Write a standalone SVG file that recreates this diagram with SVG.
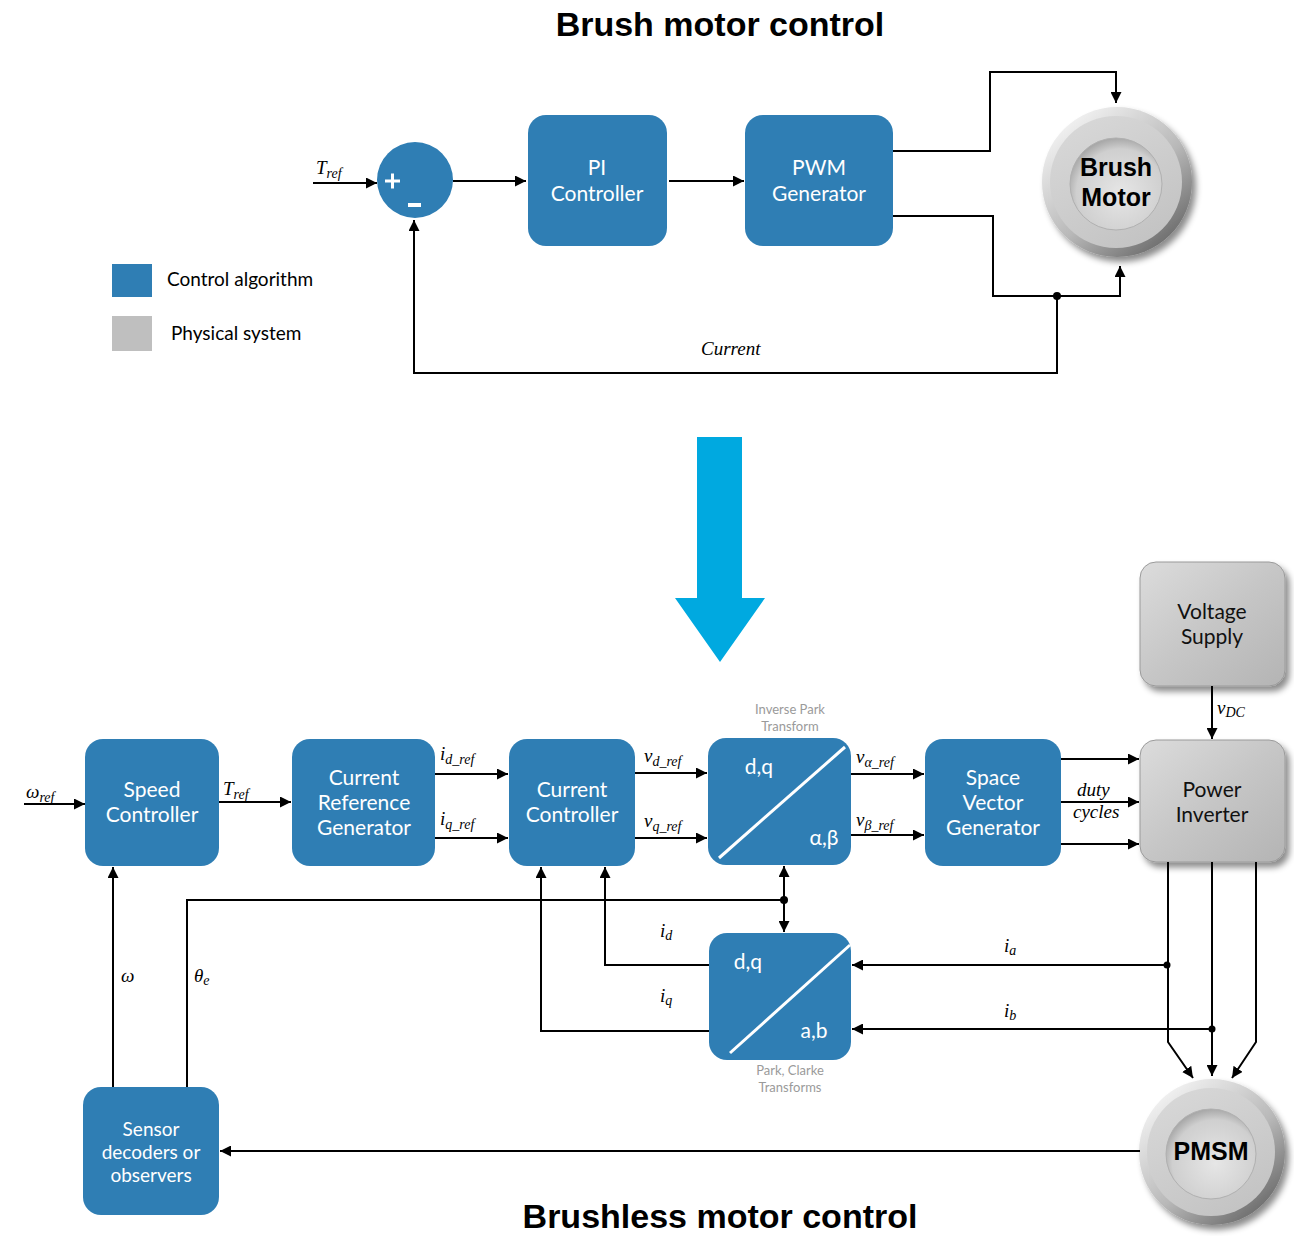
<svg xmlns="http://www.w3.org/2000/svg" width="1294" height="1236" viewBox="0 0 1294 1236">
  <defs>
    <style>
      .ctl { fill: #2f7eb4; }
      .phys { fill: url(#physGrad); stroke: #9a9a9a; stroke-width: 1; }
      .wire { fill: none; stroke: #000; stroke-width: 2; }
      .arr { fill: none; stroke: #000; stroke-width: 2; marker-end: url(#ah); }
      .lbl { font-family: Lato, "Liberation Sans", sans-serif; font-size: 21px; fill: #fff; text-anchor: middle; }
      .plbl { font-family: Lato, "Liberation Sans", sans-serif; font-size: 21px; fill: #111; text-anchor: middle; }
      .math { font-family: "Liberation Serif", serif; font-style: italic; font-size: 19px; fill: #000; }
      .sub { font-size: 14px; }
      .note { font-family: Lato, "Liberation Sans", sans-serif; font-size: 13px; fill: #9a9a9a; text-anchor: middle; }
      .title { font-family: "Liberation Sans", sans-serif; font-weight: bold; font-size: 34px; fill: #000; text-anchor: middle; }
      .legend { font-family: Lato, "Liberation Sans", sans-serif; font-size: 19px; fill: #000; }
      .diag { stroke: #fff; stroke-width: 3; }
      .motorTxt { font-family: "Liberation Sans", sans-serif; font-weight: bold; font-size: 25px; fill: #000; text-anchor: middle; }
    </style>
    <marker id="ah" viewBox="0 0 10 10" refX="10" refY="5" markerWidth="11" markerHeight="11" markerUnits="userSpaceOnUse" orient="auto">
      <path d="M0,0 L10,5 L0,10 z" fill="#000"/>
    </marker>
    <linearGradient id="physGrad" x1="0" y1="0" x2="1" y2="1">
      <stop offset="0" stop-color="#dcdcdc"/>
      <stop offset="0.5" stop-color="#c6c6c6"/>
      <stop offset="1" stop-color="#b4b4b4"/>
    </linearGradient>
    <linearGradient id="ringGrad" x1="0.15" y1="0.1" x2="0.85" y2="0.95">
      <stop offset="0" stop-color="#f2f2f2"/>
      <stop offset="0.55" stop-color="#b8b8b8"/>
      <stop offset="1" stop-color="#666"/>
    </linearGradient>
    <linearGradient id="bandGrad" x1="0.2" y1="0" x2="0.8" y2="1">
      <stop offset="0" stop-color="#d8d8d8"/>
      <stop offset="1" stop-color="#c2c2c2"/>
    </linearGradient>
    <radialGradient id="discGrad" cx="0.55" cy="0.6" r="0.6">
      <stop offset="0" stop-color="#e6e6e6"/>
      <stop offset="0.8" stop-color="#cfcfcf"/>
      <stop offset="1" stop-color="#a8a8a8"/>
    </radialGradient>
    <filter id="shadow" x="-20%" y="-20%" width="150%" height="150%">
      <feDropShadow dx="4" dy="5" stdDeviation="3" flood-color="#000" flood-opacity="0.45"/>
    </filter>
  </defs>

  <rect width="1294" height="1236" fill="#fff"/>

  <!-- titles -->
  <text class="title" x="720" y="36">Brush motor control</text>
  <text class="title" x="720" y="1228">Brushless motor control</text>

  <!-- legend -->
  <g id="legend">
    <rect x="112" y="264" width="40" height="33" class="ctl"/>
    <text class="legend" x="167" y="286">Control algorithm</text>
    <rect x="112" y="316" width="40" height="35" fill="#bfbfbf"/>
    <text class="legend" x="171" y="340">Physical system</text>
  </g>

  <!-- transition arrow -->
  <path d="M697,437 H742 V598 H765 L720,662 L675,598 H697 Z" fill="#00a9e0"/>

  <!-- ===== brush motor control nodes ===== -->
  <g id="sum">
    <circle cx="415" cy="180" r="38" class="ctl"/>
    <path d="M385,181 H400 M392.5,173.5 V188.5" stroke="#fff" stroke-width="3"/>
    <path d="M408,205 H421" stroke="#fff" stroke-width="4"/>
  </g>
  <g id="pi-controller">
    <rect x="528" y="115" width="139" height="131" rx="18" class="ctl"/>
    <text class="lbl" x="597" y="175">PI</text>
    <text class="lbl" x="597" y="201">Controller</text>
  </g>
  <g id="pwm-generator">
    <rect x="745" y="115" width="148" height="131" rx="18" class="ctl"/>
    <text class="lbl" x="819" y="175">PWM</text>
    <text class="lbl" x="819" y="201">Generator</text>
  </g>
  <g id="brush-motor">
    <circle cx="1117" cy="182" r="75" fill="url(#ringGrad)" filter="url(#shadow)"/>
    <circle cx="1116" cy="182" r="66" fill="url(#bandGrad)"/>
    <circle cx="1116" cy="184" r="46" fill="url(#discGrad)" stroke="#b0b0b0" stroke-width="1"/>
    <text class="motorTxt" x="1116" y="176">Brush</text>
    <text class="motorTxt" x="1116" y="206">Motor</text>
  </g>

  <!-- ===== brushless motor control nodes ===== -->
  <g id="speed-controller">
    <rect x="85" y="739" width="134" height="127" rx="18" class="ctl"/>
    <text class="lbl" x="152" y="797">Speed</text>
    <text class="lbl" x="152" y="822">Controller</text>
  </g>
  <g id="current-reference-generator">
    <rect x="292" y="739" width="143" height="127" rx="18" class="ctl"/>
    <text class="lbl" x="364" y="785">Current</text>
    <text class="lbl" x="364" y="810">Reference</text>
    <text class="lbl" x="364" y="835">Generator</text>
  </g>
  <g id="current-controller">
    <rect x="509" y="739" width="126" height="127" rx="18" class="ctl"/>
    <text class="lbl" x="572" y="797">Current</text>
    <text class="lbl" x="572" y="822">Controller</text>
  </g>
  <g id="inverse-park">
    <rect x="708" y="738" width="143" height="127" rx="18" class="ctl"/>
    <line x1="719" y1="858" x2="845" y2="747" class="diag"/>
    <text class="lbl" x="759" y="774">d,q</text>
    <text class="lbl" x="824" y="845">α,β</text>
    <text class="note" x="790" y="714">Inverse Park</text>
    <text class="note" x="790" y="731">Transform</text>
  </g>
  <g id="space-vector-generator">
    <rect x="925" y="739" width="136" height="127" rx="18" class="ctl"/>
    <text class="lbl" x="993" y="785">Space</text>
    <text class="lbl" x="993" y="810">Vector</text>
    <text class="lbl" x="993" y="835">Generator</text>
  </g>
  <g id="voltage-supply">
    <rect x="1140" y="562" width="145" height="124" rx="16" class="phys" filter="url(#shadow)"/>
    <text class="plbl" x="1212" y="619">Voltage</text>
    <text class="plbl" x="1212" y="644">Supply</text>
  </g>
  <g id="power-inverter">
    <rect x="1140" y="740" width="145" height="122" rx="16" class="phys" filter="url(#shadow)"/>
    <text class="plbl" x="1212" y="797">Power</text>
    <text class="plbl" x="1212" y="822">Inverter</text>
  </g>
  <g id="park-clarke">
    <rect x="709" y="933" width="142" height="127" rx="18" class="ctl"/>
    <line x1="730" y1="1053" x2="850" y2="945" class="diag"/>
    <text class="lbl" x="748" y="969">d,q</text>
    <text class="lbl" x="814" y="1038">a,b</text>
    <text class="note" x="790" y="1075">Park, Clarke</text>
    <text class="note" x="790" y="1092">Transforms</text>
  </g>
  <g id="sensor-decoders">
    <rect x="83" y="1087" width="136" height="128" rx="18" class="ctl"/>
    <text class="lbl" x="151" y="1136" style="font-size:19px">Sensor</text>
    <text class="lbl" x="151" y="1159" style="font-size:19px">decoders or</text>
    <text class="lbl" x="151" y="1182" style="font-size:19px">observers</text>
  </g>
  <g id="pmsm">
    <circle cx="1212" cy="1152" r="73" fill="url(#ringGrad)" filter="url(#shadow)"/>
    <circle cx="1211" cy="1152" r="64" fill="url(#bandGrad)"/>
    <circle cx="1211" cy="1154" r="45" fill="url(#discGrad)" stroke="#b0b0b0" stroke-width="1"/>
    <text class="motorTxt" x="1211" y="1160">PMSM</text>
  </g>

  <!-- ===== connectors ===== -->
  <g id="connectors">
    <!-- brush loop -->
    <path class="arr" d="M313,183 H377"/>
    <path class="arr" d="M453,181 H526"/>
    <path class="arr" d="M669,181 H744"/>
    <path class="arr" d="M893,151 H990 V72 H1116 V103"/>
    <path class="arr" d="M893,216 H993 V296 H1120 V266"/>
    <path class="arr" d="M1057,296 V373 H414 V220"/>
    <circle cx="1057" cy="296" r="4" fill="#000"/>

    <!-- brushless forward path -->
    <path class="arr" d="M24,804 H85"/>
    <path class="arr" d="M219,802 H291"/>
    <path class="arr" d="M435,774 H508"/>
    <path class="arr" d="M435,838 H508"/>
    <path class="arr" d="M635,773 H707"/>
    <path class="arr" d="M635,838 H707"/>
    <path class="arr" d="M851,774 H924"/>
    <path class="arr" d="M851,835 H924"/>
    <path class="arr" d="M1061,759 H1139"/>
    <path class="arr" d="M1061,802 H1139"/>
    <path class="arr" d="M1061,844 H1139"/>
    <path class="arr" d="M1212,686 V739"/>

    <!-- inverter phases to motor -->
    <path class="arr" d="M1168,862 V1042 L1193,1078"/>
    <path class="arr" d="M1212,862 V1076"/>
    <path class="arr" d="M1256,862 V1042 L1232,1078"/>

    <!-- measured currents -->
    <path class="arr" d="M1167,965 H852"/>
    <path class="arr" d="M1212,1029 H852"/>
    <circle cx="1167" cy="965" r="3.5" fill="#000"/>
    <circle cx="1212" cy="1029" r="3.5" fill="#000"/>
    <path class="arr" d="M709,965 H605 V867"/>
    <path class="arr" d="M709,1031 H541 V867"/>

    <!-- position / speed feedback -->
    <path class="wire" d="M187,1087 V900 H784"/>
    <path class="arr" d="M784,900 V866"/>
    <path class="arr" d="M784,900 V932"/>
    <circle cx="784" cy="900" r="4" fill="#000"/>
    <path class="arr" d="M113,1087 V867"/>
    <path class="arr" d="M1140,1151 H220"/>
  </g>

  <!-- signal labels -->
  <g id="labels">
    <text class="math" x="316" y="174">T<tspan class="sub" dy="4">ref</tspan></text>
    <text class="math" x="701" y="355">Current</text>
    <text class="math" x="26" y="798">ω<tspan class="sub" dy="4">ref</tspan></text>
    <text class="math" x="223" y="795">T<tspan class="sub" dy="4">ref</tspan></text>
    <text class="math" x="440" y="760">i<tspan class="sub" dy="4">d_ref</tspan></text>
    <text class="math" x="440" y="825">i<tspan class="sub" dy="4">q_ref</tspan></text>
    <text class="math" x="644" y="762">v<tspan class="sub" dy="4">d_ref</tspan></text>
    <text class="math" x="644" y="827">v<tspan class="sub" dy="4">q_ref</tspan></text>
    <text class="math" x="856" y="763">v<tspan class="sub" dy="4">α_ref</tspan></text>
    <text class="math" x="856" y="826">v<tspan class="sub" dy="4">β_ref</tspan></text>
    <text class="math" x="1077" y="796">duty</text>
    <text class="math" x="1073" y="818">cycles</text>
    <text class="math" x="1217" y="714">v<tspan class="sub" dy="3">DC</tspan></text>
    <text class="math" x="660" y="937">i<tspan class="sub" dy="3">d</tspan></text>
    <text class="math" x="660" y="1002">i<tspan class="sub" dy="3">q</tspan></text>
    <text class="math" x="1004" y="952">i<tspan class="sub" dy="3">a</tspan></text>
    <text class="math" x="1004" y="1017">i<tspan class="sub" dy="3">b</tspan></text>
    <text class="math" x="121" y="982">ω</text>
    <text class="math" x="194" y="982">θ<tspan class="sub" dy="3">e</tspan></text>
  </g>
</svg>
